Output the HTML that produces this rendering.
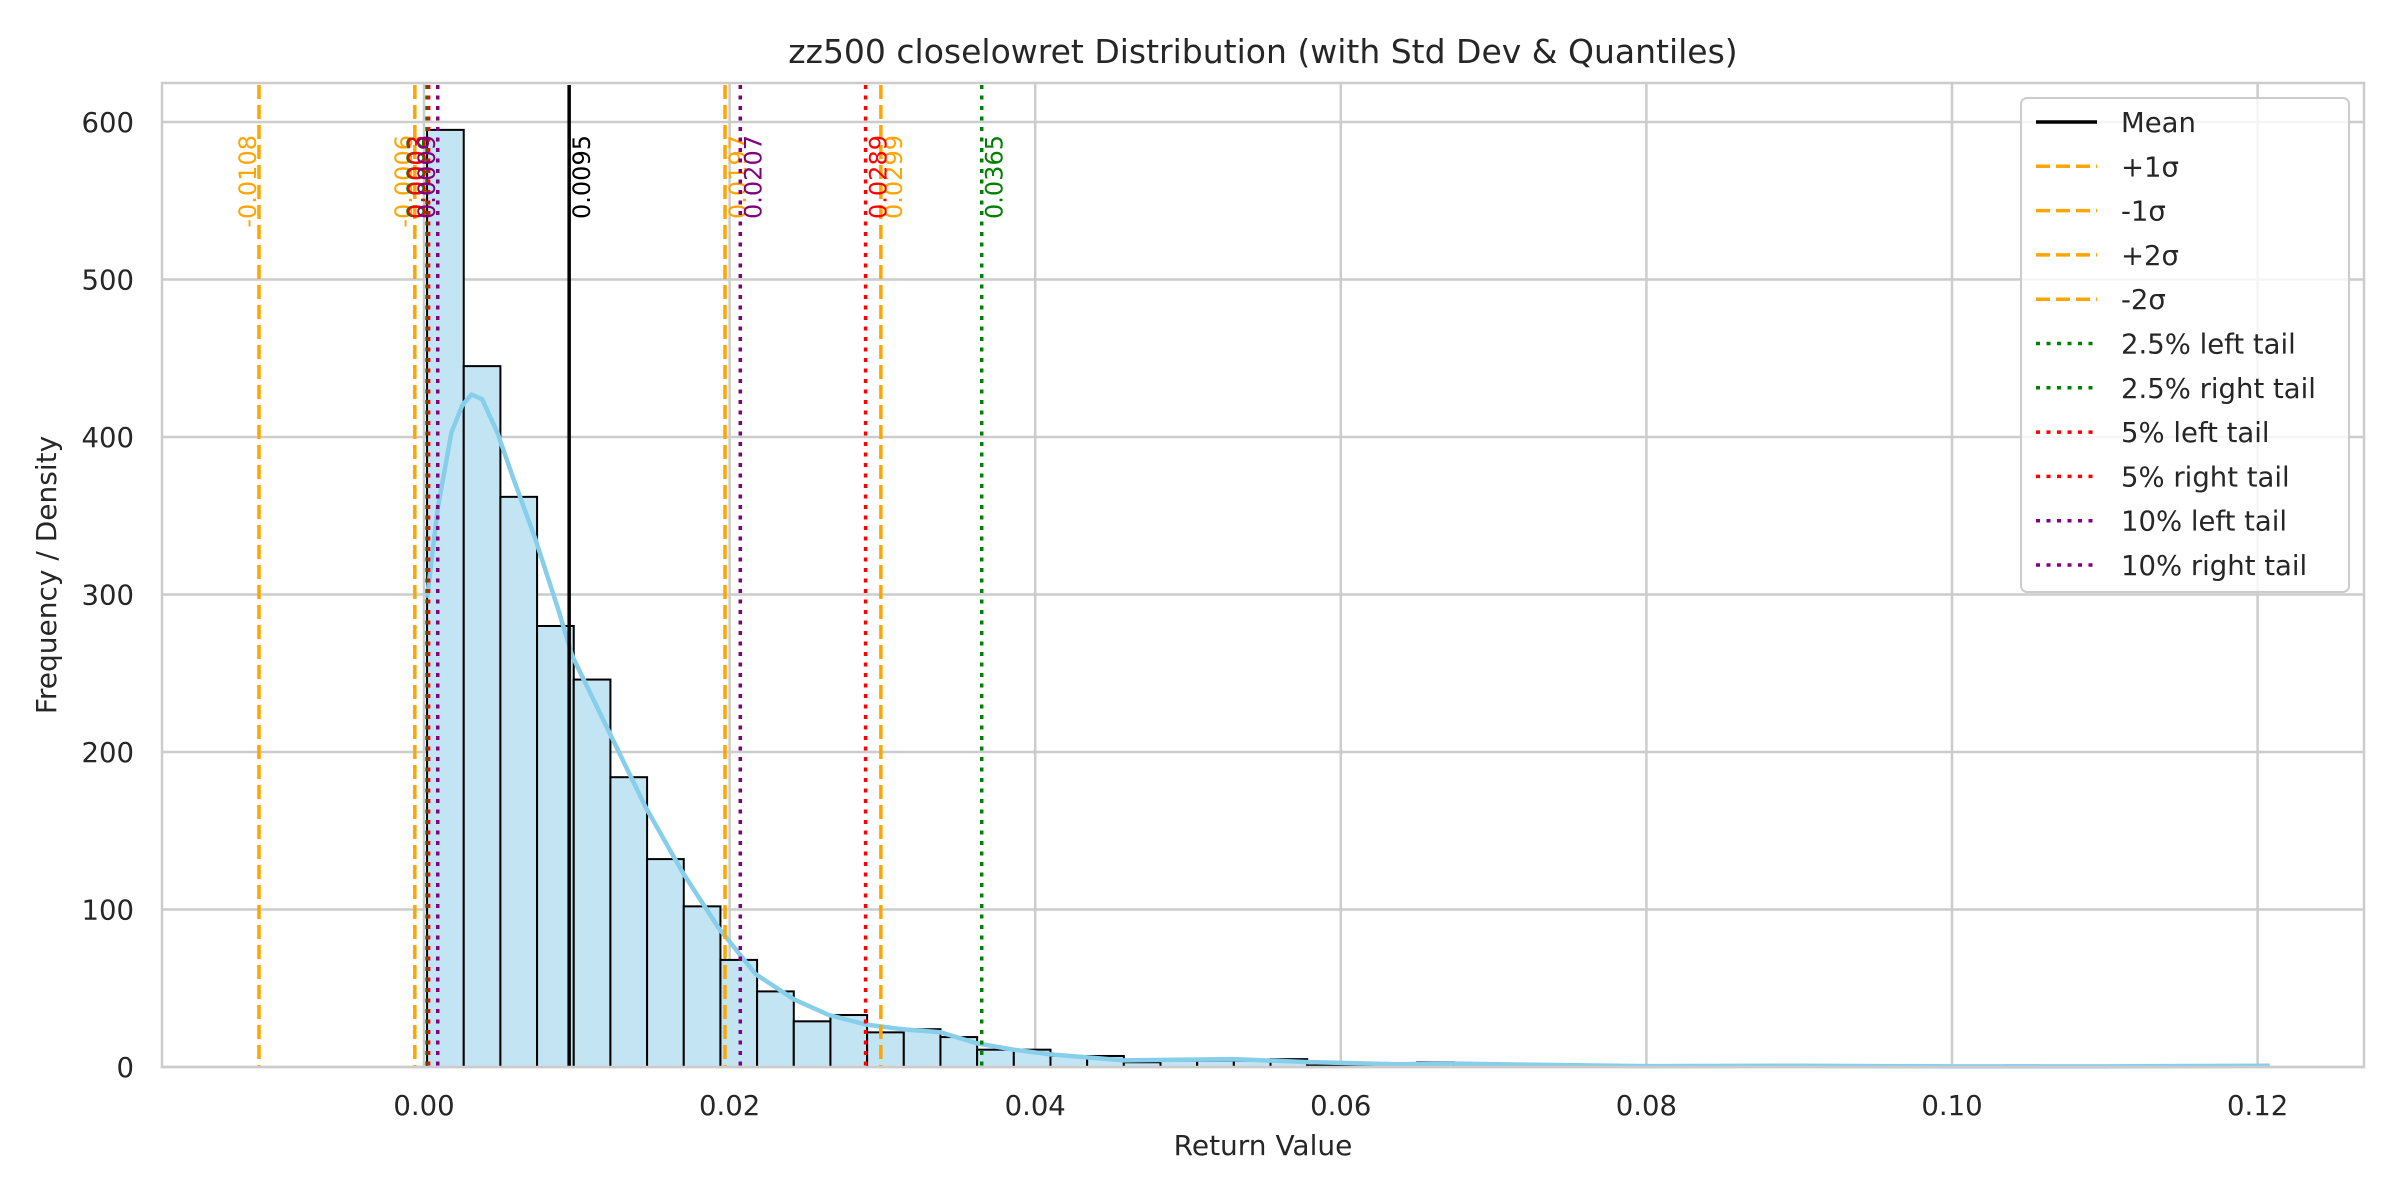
<!DOCTYPE html>
<html><head><meta charset="utf-8"><style>
html,body{margin:0;padding:0;background:#fff;}
svg{display:block;font-family:"DejaVu Sans","Liberation Sans",sans-serif;}
</style></head><body>
<svg id="chart" width="2400" height="1200" viewBox="0 0 2400 1200" xmlns="http://www.w3.org/2000/svg">
<rect x="0" y="0" width="2400" height="1200" fill="#fff"/>
<text x="1263" y="63" font-size="33" text-anchor="middle" fill="#262626">zz500 closelowret Distribution (with Std Dev &amp; Quantiles)</text>
<text x="1263" y="1155" font-size="28" text-anchor="middle" fill="#262626">Return Value</text>
<text transform="translate(56,575) rotate(-90)" font-size="28" text-anchor="middle" fill="#262626">Frequency / Density</text>
<g id="grid"></g>
<g id="bars"></g>
<path id="kde" fill="none" stroke="#87ceeb" stroke-width="4.5" stroke-linejoin="round"/>
<g id="vlines"></g>
<rect x="162" y="83" width="2202" height="984" fill="none" stroke="#cccccc" stroke-width="2.5"/>
<g id="ticks"></g>
<g id="legend"></g>
</svg>
<script>
// ---- data ----
const binStart = 0.0002;
const binWidth = 0.0024;
const binCounts = [595,445,362,280,246,184,132,102,68,48,29,33,22,24,19,11,11,7,7,3,4,4,4,5,1,1,0,3,2,2,0,1,0,1,0,0,0,1,0,0,0,0,0,1,0,0,0,0,0,1];
const kdeX = [0.0002,0.0009,0.0018,0.0025,0.0031,0.0038,0.0048,0.0058,0.0073,0.0088,0.0097,0.0121,0.0145,0.0169,0.0193,0.0217,0.0242,0.0265,0.0289,0.0313,0.0338,0.0362,0.0386,0.0410,0.0458,0.0530,0.0577,0.0637,0.0670,0.0720,0.0800,0.0900,0.1000,0.1100,0.1208];
const kdeY = [298,355,403,420,427,424,403,375,335,290,261,213,165,124,88,59,43,33,27,24,22,15,11,8,4.2,5,3.2,1.7,2.2,1.5,0.6,0.8,0.4,0.4,0.8];
const xTicks = [0.00,0.02,0.04,0.06,0.08,0.10,0.12];
const xTickLabels = ["0.00","0.02","0.04","0.06","0.08","0.10","0.12"];
const yTicks = [0,100,200,300,400,500,600];
const meanValue = 0.0095;
const refValues = [0.0095,0.0197,-0.0006,0.0299,-0.0108,0.0002,0.0365,0.0003,0.0289,0.0009,0.0207];
const refLabels = ["0.0095","0.0197","-0.0006","0.0299","-0.0108","0.0002","0.0365","0.0003","0.0289","0.0009","0.0207"];
const refNames = ["Mean","+1σ","-1σ","+2σ","-2σ","2.5% left tail","2.5% right tail","5% left tail","5% right tail","10% left tail","10% right tail"];
const refColors = ["#000000","#ffa500","#ffa500","#ffa500","#ffa500","#008000","#008000","#ff0000","#ff0000","#800080","#800080"];
const refStyles = ["solid","dashed","dashed","dashed","dashed","dotted","dotted","dotted","dotted","dotted","dotted"];

// ---- scales ----
const X0 = 424, PXPER = 15280;
const Y0 = 1067, PYPER = 1.575;
const plotTop = 83, plotLeft = 162, plotRight = 2364;
function sx(v){ return X0 + v*PXPER; }
function sy(v){ return Y0 - v*PYPER; }
const NS = "http://www.w3.org/2000/svg";
function mk(tag, attrs, parent){ const e=document.createElementNS(NS,tag); for(const k in attrs) e.setAttribute(k,attrs[k]); parent.appendChild(e); return e; }

const grid = document.getElementById('grid'), ticks = document.getElementById('ticks');
xTicks.forEach((t,i)=>{
  const g = mk('line',{x1:sx(t),x2:sx(t),y1:plotTop,y2:Y0,stroke:'#cccccc','stroke-width':2.5},grid);
  
  
  const tx = mk('text',{x:sx(t),y:1115,'font-size':27.5,'text-anchor':'middle',fill:'#262626'},ticks);
  tx.textContent = xTickLabels[i];
  
  
});
yTicks.forEach(t=>{
  const g = mk('line',{x1:plotLeft,x2:plotRight,y1:sy(t),y2:sy(t),stroke:'#cccccc','stroke-width':2.5},grid);
  
  
  const tx = mk('text',{x:134,y:sy(t)+10,'font-size':27.5,'text-anchor':'end',fill:'#262626'},ticks);
  tx.textContent = String(t);
  
  
});

const bars = document.getElementById('bars');
binCounts.forEach((c,i)=>{
  if(c<=0) return;
  const x1 = sx(binStart+i*binWidth), x2 = sx(binStart+(i+1)*binWidth);
  const r = mk('rect',{x:x1,y:sy(c),width:x2-x1,height:sy(0)-sy(c),fill:'#c3e5f3',stroke:'#000','stroke-width':2},bars);
  
  
});

let d='';
kdeX.forEach((v,i)=>{ d += (i?'L':'M') + sx(v).toFixed(1) + ',' + sy(kdeY[i]).toFixed(1); });
document.getElementById('kde').setAttribute('d',d);

function dashFor(style){ return style==='dashed' ? '14,6' : (style==='dotted' ? '4,6.5' : null); }

const vl = document.getElementById('vlines');
refValues.forEach((v,i)=>{
  const x = sx(v);
  const a = {x1:x,x2:x,y1:plotTop+2,y2:Y0,stroke:refColors[i],'stroke-width':3.5};
  const ds = dashFor(refStyles[i]); if(ds) a['stroke-dasharray']=ds;
  const ln = mk('line',a,vl);
  
  
  const bx = v < meanValue ? x-3 : x+21;
  const t = mk('text',{transform:`translate(${bx},135) rotate(-90)`,'font-size':24,'text-anchor':'end',fill:refColors[i]},vl);
  t.textContent = refLabels[i];
  
  
});

const lg = document.getElementById('legend');
const box = mk('rect',{x:2021,y:98,width:328,height:494,rx:6,fill:'#ffffff','fill-opacity':0.8,stroke:'#cccccc','stroke-width':2},lg);


refNames.forEach((n,i)=>{
  const y = 122 + i*44.3;
  const a = {x1:2036,x2:2097,y1:y,y2:y,stroke:refColors[i],'stroke-width':3.5};
  const ds = dashFor(refStyles[i]); if(ds) a['stroke-dasharray']=ds;
  const h = mk('line',a,lg);
  
  
  const t = mk('text',{x:2121,y:y+10,'font-size':27.5,fill:'#262626'},lg);
  t.textContent = n;
  
  
});
</script>
</body></html>
